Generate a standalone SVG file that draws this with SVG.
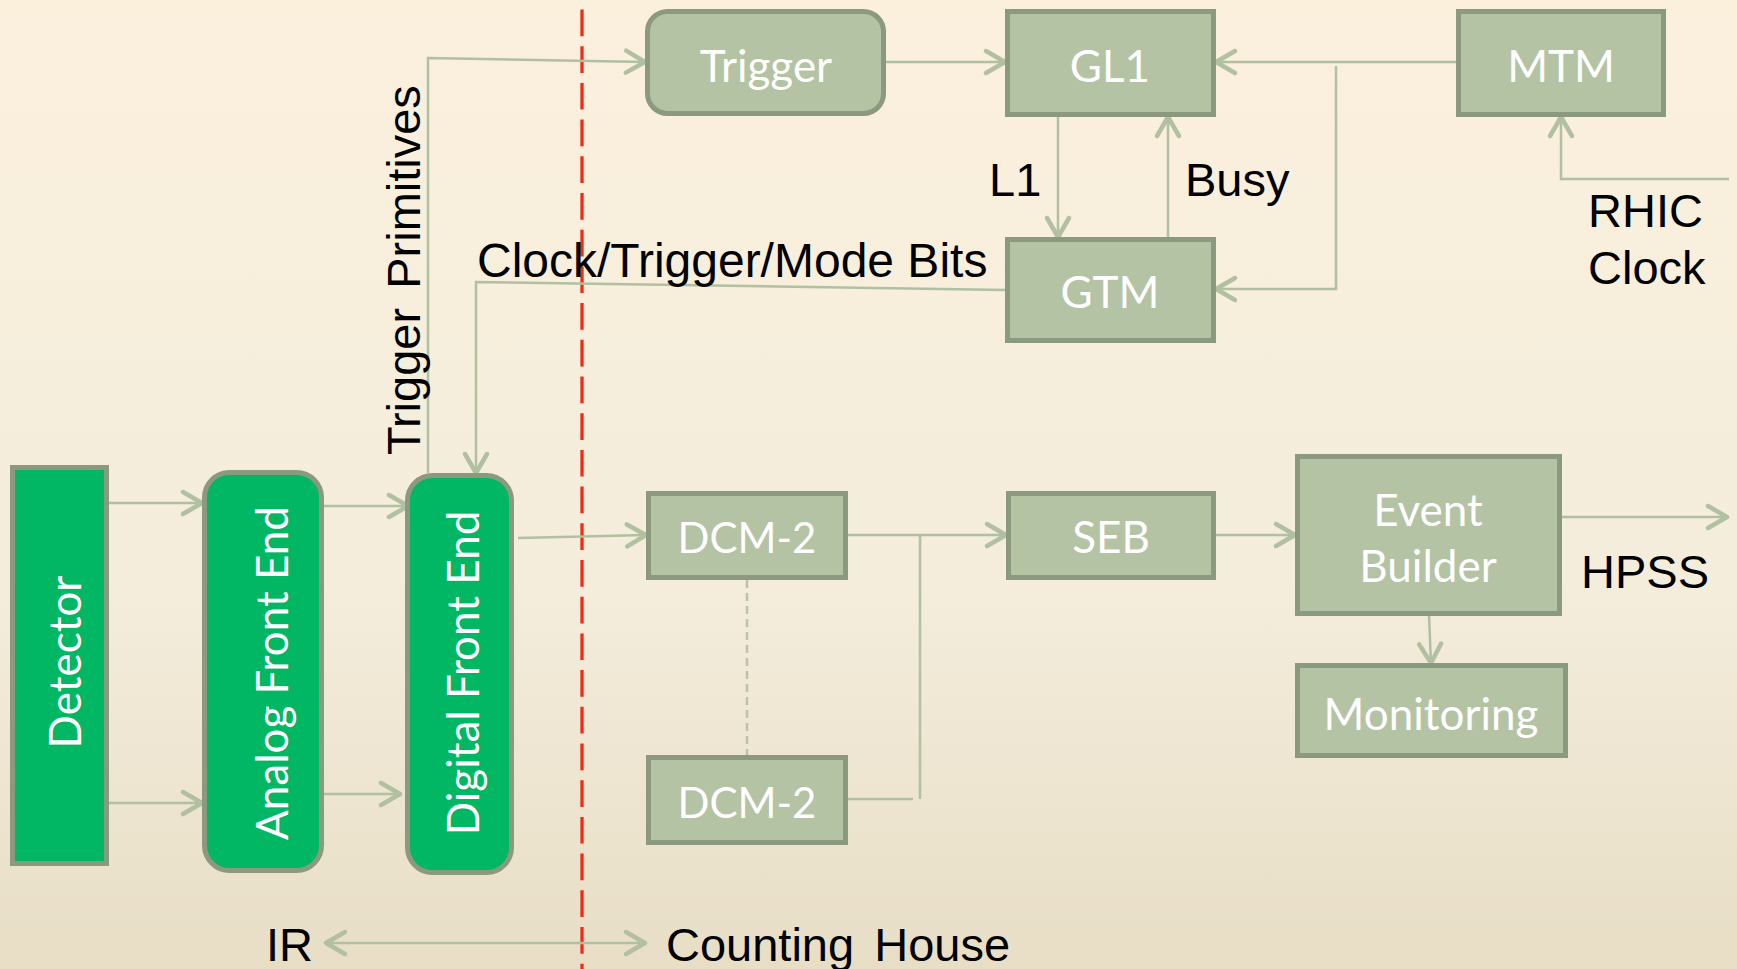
<svg xmlns="http://www.w3.org/2000/svg" width="1737" height="969" viewBox="0 0 1737 969">
<defs>
<linearGradient id="bg" x1="0" y1="0" x2="0" y2="1">
<stop offset="0" stop-color="#FBF0DC"/>
<stop offset="0.6" stop-color="#F4EDDC"/>
<stop offset="1" stop-color="#E8DEC6"/>
</linearGradient>
<marker id="arr" markerUnits="userSpaceOnUse" markerWidth="32" markerHeight="32" viewBox="-26 -16 32 32" refX="0" refY="0" orient="auto-start-reverse" overflow="visible">
<path d="M-19,-11 L0,0 L-19,11" fill="none" stroke="#B0C0A0" stroke-width="4.5" stroke-linecap="round" stroke-linejoin="round"/>
</marker>
<style>
.box{fill:#B4C3A4;stroke:#8B9A7E;stroke-width:5}
.gbox{fill:#02B763;stroke:#8B9A7E;stroke-width:5}
.lbl{font-family:Lato,"Open Sans",sans-serif;font-size:44px;fill:#FFFFFF;text-anchor:middle}
.txt{font-family:"Liberation Sans",Arial,sans-serif;font-size:47px;fill:#000000}
.con{fill:none;stroke:#B0C0A0;stroke-width:2.5}
.arrow{marker-end:url(#arr)}
</style>
</defs>
<rect x="0" y="0" width="1737" height="969" fill="url(#bg)"/>

<line x1="582" y1="9.5" x2="582" y2="969" stroke="#F52A14" stroke-width="3.3" stroke-dasharray="26.7 10"/>

<g id="connectors">
<polyline class="con arrow" points="428,473 428,58 645,62"/>
<polyline class="con arrow" points="1005,290 476,282 476,473"/>
<line class="con arrow" x1="886" y1="62" x2="1005" y2="62"/>
<line class="con arrow" x1="1456" y1="62" x2="1216" y2="62"/>
<polyline class="con arrow" points="1336,66 1336,289 1216,289"/>
<polyline class="con arrow" points="1729,179 1561,179 1561,117"/>
<line class="con arrow" x1="1058" y1="117" x2="1058" y2="237"/>
<line class="con arrow" x1="1168" y1="237" x2="1168" y2="117"/>
<line class="con arrow" x1="109" y1="503" x2="202" y2="503"/>
<line class="con arrow" x1="109" y1="803" x2="202" y2="803"/>
<line class="con arrow" x1="316" y1="506" x2="408" y2="506"/>
<line class="con arrow" x1="316" y1="794" x2="400" y2="794"/>
<line class="con arrow" x1="518" y1="538" x2="646" y2="535"/>
<line class="con" x1="747" y1="580" x2="747" y2="755" stroke-dasharray="8 5" style="stroke:#BDC2B0"/>
<line class="con arrow" x1="848" y1="535" x2="1006" y2="535"/>
<line class="con" x1="920" y1="535" x2="920" y2="799"/>
<line class="con" x1="848" y1="799" x2="913" y2="799"/>
<line class="con arrow" x1="1216" y1="535" x2="1295" y2="535"/>
<line class="con arrow" x1="1537" y1="517" x2="1727" y2="517"/>
<line class="con arrow" x1="1429" y1="616" x2="1431" y2="663"/>
<line class="con arrow" x1="326" y1="943" x2="645" y2="943" marker-start="url(#arr)"/>
</g>

<g id="detector"><rect class="gbox" x="12.5" y="467.5" width="94" height="396"/>
<text class="lbl" transform="translate(81,662) rotate(-90)">Detector</text></g>
<g id="analog-front-end"><rect class="gbox" x="204.5" y="472.5" width="117" height="398" rx="25"/>
<text class="lbl" transform="translate(288,673) rotate(-90)">Analog Front End</text></g>
<g id="digital-front-end"><rect class="gbox" x="407.5" y="475.5" width="104" height="397" rx="25"/>
<text class="lbl" transform="translate(479,673) rotate(-90)">Digital Front End</text></g>
<g id="trigger"><rect class="box" x="647.5" y="11.5" width="236" height="102" rx="20"/>
<text class="lbl" x="766" y="82">Trigger</text></g>
<g id="gl1"><rect class="box" x="1007.5" y="11.5" width="206" height="103"/>
<text class="lbl" x="1110" y="82">GL1</text></g>
<g id="gtm"><rect class="box" x="1007.5" y="239.5" width="206" height="101"/>
<text class="lbl" x="1110" y="308">GTM</text></g>
<g id="mtm"><rect class="box" x="1458.5" y="11.5" width="205" height="103"/>
<text class="lbl" x="1561" y="82">MTM</text></g>
<g id="dcm2-a"><rect class="box" x="648.5" y="493.5" width="197" height="84"/>
<text class="lbl" x="747" y="553" style="font-size:42px">DCM-2</text></g>
<g id="dcm2-b"><rect class="box" x="648.5" y="757.5" width="197" height="85"/>
<text class="lbl" x="747" y="818" style="font-size:42px">DCM-2</text></g>
<g id="seb"><rect class="box" x="1008.5" y="493.5" width="205" height="84"/>
<text class="lbl" x="1111" y="553">SEB</text></g>
<g id="event-builder"><rect class="box" x="1297.5" y="456.5" width="262" height="157"/>
<text class="lbl" x="1428" y="526">Event</text>
<text class="lbl" x="1428" y="582">Builder</text></g>
<g id="monitoring"><rect class="box" x="1297.5" y="665.5" width="268" height="90"/>
<text class="lbl" x="1431" y="730">Monitoring</text></g>

<g id="labels">
<text class="txt" transform="translate(420,455) rotate(-90)" style="word-spacing:6px">Trigger Primitives</text>
<text class="txt" x="477" y="277" style="font-size:48px">Clock/Trigger/Mode Bits</text>
<text class="txt" x="989" y="196">L1</text>
<text class="txt" x="1185" y="196">Busy</text>
<text class="txt" x="1588" y="227">RHIC</text>
<text class="txt" x="1588" y="284">Clock</text>
<text class="txt" x="1581" y="588">HPSS</text>
<text class="txt" x="266" y="961">IR</text>
<text class="txt" x="666" y="961" style="word-spacing:7px">Counting House</text>
</g>
</svg>
